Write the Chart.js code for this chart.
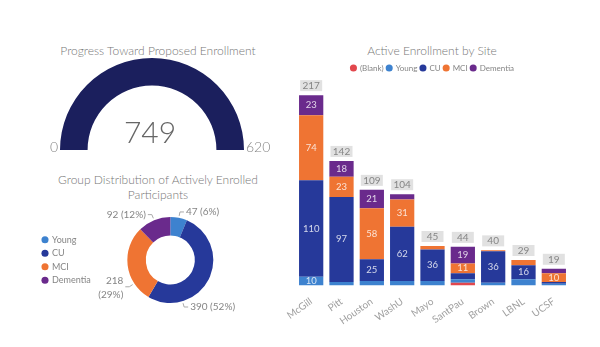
<!DOCTYPE html>
<html>
<head>
<meta charset="utf-8">
<script src="https://cdn.jsdelivr.net/npm/chart.js@4"></script>
<style>
    body { margin: 0; width: 600px; height: 347px; background: #fff; position: relative; overflow: hidden; font-family: Lato, sans-serif; }
    canvas { position: absolute; }
    .title { position: absolute; color: #777; font-size: 12px; font-weight: 300; text-align: center; line-height: 15px; }
</style>
</head>
<body>
<div class="title" style="left:38px; top:43px; width:240px;">Progress Toward Proposed Enrollment</div>
<div class="title" style="left:38px; top:172px; width:240px;">Group Distribution of Actively Enrolled<br>Participants</div>
<div class="title" style="left:312px; top:43px; width:240px;">Active Enrollment by Site</div>
<canvas id="gauge" width="240" height="105" style="left:40px; top:55px;"></canvas>
<canvas id="donut" width="300" height="115" style="left:30px; top:203px;"></canvas>
<canvas id="bars" width="320" height="289" style="left:280px; top:58px;"></canvas>
<script>
// gauge
const gaugeValue = 749;
const gaugeMin = 0;
const gaugeMax = 620;

// group distribution
const groups = ['Young', 'CU', 'MCI', 'Dementia'];
const groupCounts = [47, 390, 218, 92];

// enrollment by site
const sites = ['McGill', 'Pitt', 'Houston', 'WashU', 'Mayo', 'SantPau', 'Brown', 'LBNL', 'UCSF'];
const blankBySite = [0, 0, 0, 0, 0, 3, 0, 0, 0];
const youngBySite = [10, 4, 5, 5, 5, 4, 3, 7, 2];
const cuBySite = [110, 97, 25, 62, 36, 7, 36, 16, 2];
const mciBySite = [74, 23, 58, 31, 4, 11, 1, 6, 10];
const dementiaBySite = [23, 18, 21, 6, 0, 19, 0, 0, 5];

const colors = {
    blank: '#e2474d',
    young: '#3d82cf',
    cu: '#26399a',
    mci: '#ef7433',
    dementia: '#6a2a8c',
    gauge: '#1b1f5d'
};
const fontName = 'Lato, sans-serif';
const grey = '#858585';

// ---------- gauge ----------
const gaugeText = {
    id: 'gaugeText',
    afterDraw(chart) {
        const ctx = chart.ctx;
        const arc = chart.getDatasetMeta(0).data[0];
        ctx.save();
        ctx.fillStyle = '#666';
        ctx.textAlign = 'center';
        ctx.textBaseline = 'alphabetic';
        ctx.font = '300 30px ' + fontName;
        ctx.fillText(gaugeValue, arc.x - 2, arc.y - 7);
        ctx.font = '300 14px ' + fontName;
        ctx.fillStyle = grey;
        ctx.textAlign = 'right';
        ctx.fillText(gaugeMin, arc.x - arc.outerRadius - 2, arc.y + 2);
        ctx.textAlign = 'left';
        ctx.fillText(gaugeMax, arc.x + arc.outerRadius + 2, arc.y + 2);
        ctx.restore();
    }
};

new Chart(document.getElementById('gauge'), {
    type: 'doughnut',
    data: {
        labels: ['Enrolled', 'Remaining'],
        datasets: [{
            data: [Math.min(gaugeValue, gaugeMax), Math.max(gaugeMax - gaugeValue, 0)],
            backgroundColor: [colors.gauge, '#e6e6e6'],
            borderWidth: 0
        }]
    },
    options: {
        responsive: false,
        animation: false,
        rotation: -90,
        circumference: 180,
        cutout: '70%',
        layout: { padding: { left: 20, right: 36, top: 3, bottom: 10 } },
        plugins: { legend: { display: false }, tooltip: { enabled: false } }
    },
    plugins: [gaugeText]
});

// ---------- donut ----------
const donutLabels = {
    id: 'donutLabels',
    afterDatasetsDraw(chart) {
        const ctx = chart.ctx;
        const total = groupCounts.reduce((a, b) => a + b, 0);
        const meta = chart.getDatasetMeta(0);
        const boxes = chart.legend.legendHitBoxes;
        const legTop = boxes[0].top - 6;
        const legBottom = boxes[boxes.length - 1].top + boxes[boxes.length - 1].height + 6;
        ctx.save();
        ctx.font = '10px ' + fontName;
        ctx.fillStyle = grey;
        ctx.strokeStyle = '#aaa';
        ctx.lineWidth = 1;
        ctx.textBaseline = 'middle';
        meta.data.forEach(function (arc, i) {
            let ang = (arc.startAngle + arc.endAngle) / 2;
            // labels of the lower half slide toward the bottom of their slice
            if (Math.sin(ang) > 0) {
                const span = arc.endAngle - arc.startAngle;
                ang += (Math.cos(ang) >= 0 ? 1 : -1) * 0.25 * span;
            }
            const cos = Math.cos(ang), sin = Math.sin(ang);
            const r = arc.outerRadius;
            const x0 = arc.x + cos * (r + 2), y0 = arc.y + sin * (r + 2);
            const x1 = arc.x + cos * (r + 6), y1 = arc.y + sin * (r + 6);
            const dir = cos >= 0 ? 1 : -1;
            const x2 = x1 + dir * 4;
            ctx.beginPath();
            ctx.moveTo(x0, y0);
            ctx.lineTo(x1, y1);
            ctx.lineTo(x2, y1);
            ctx.stroke();
            const pct = Math.round(groupCounts[i] / total * 100);
            const txt = groupCounts[i] + ' (' + pct + '%)';
            const tx = x2 + dir * 2;
            ctx.textAlign = dir > 0 ? 'left' : 'right';
            const nearLegend = y1 > legTop && y1 < legBottom;
            if (dir < 0 && nearLegend && tx - ctx.measureText(txt).width < chart.legend.right + 6) {
                // not enough room beside the legend: two lines
                ctx.fillText(groupCounts[i], tx, y1 - 6);
                ctx.fillText('(' + pct + '%)', tx, y1 + 8);
            } else {
                ctx.fillText(txt, tx, y1);
            }
        });
        ctx.restore();
    }
};

new Chart(document.getElementById('donut'), {
    type: 'doughnut',
    data: {
        labels: groups,
        datasets: [{
            data: groupCounts,
            backgroundColor: [colors.young, colors.cu, colors.mci, colors.dementia],
            borderWidth: 0
        }]
    },
    options: {
        responsive: false,
        animation: false,
        cutout: '57%',
        layout: { padding: { top: 14, bottom: 15, left: 8, right: 90 } },
        plugins: {
            tooltip: { enabled: false },
            legend: {
                position: 'left',
                labels: {
                    usePointStyle: true,
                    pointStyle: 'circle',
                    boxWidth: 5,
                    boxHeight: 5,
                    padding: 4.5,
                    color: grey,
                    font: { family: fontName, size: 9 }
                }
            }
        }
    },
    plugins: [donutLabels]
});

// ---------- stacked bars ----------
const barLabels = {
    id: 'barLabels',
    afterDatasetsDraw(chart) {
        const ctx = chart.ctx;
        ctx.save();
        ctx.textAlign = 'center';
        ctx.textBaseline = 'middle';
        // values inside segments
        chart.data.datasets.forEach(function (ds, d) {
            const meta = chart.getDatasetMeta(d);
            meta.data.forEach(function (bar, i) {
                const h = Math.abs(bar.base - bar.y);
                if (ds.data[i] > 0 && h >= 8) {
                    ctx.font = '9.5px ' + fontName;
                    ctx.fillStyle = 'rgba(255,255,255,0.8)';
                    ctx.fillText(ds.data[i], bar.x, (bar.y + bar.base) / 2);
                }
            });
        });
        // totals in grey boxes
        const last = chart.getDatasetMeta(chart.data.datasets.length - 1);
        sites.forEach(function (s, i) {
            let total = 0;
            chart.data.datasets.forEach(function (ds) { total += ds.data[i]; });
            const bar = last.data[i];
            const y = chart.scales.y.getPixelForValue(total);
            ctx.fillStyle = '#e1e1e1';
            ctx.fillRect(bar.x - 11, y - 15, 22, 11);
            ctx.fillStyle = grey;
            ctx.font = '10px ' + fontName;
            ctx.fillText(total, bar.x, y - 9.5);
        });
        ctx.restore();
    }
};

new Chart(document.getElementById('bars'), {
    type: 'bar',
    data: {
        labels: sites,
        datasets: [
            { label: '(Blank)', data: blankBySite, backgroundColor: colors.blank },
            { label: 'Young', data: youngBySite, backgroundColor: colors.young },
            { label: 'CU', data: cuBySite, backgroundColor: colors.cu },
            { label: 'MCI', data: mciBySite, backgroundColor: colors.mci },
            { label: 'Dementia', data: dementiaBySite, backgroundColor: colors.dementia }
        ]
    },
    options: {
        responsive: false,
        animation: false,
        layout: { padding: { left: 16, right: 31, top: 3, bottom: 18 } },
        datasets: { bar: { categoryPercentage: 0.8, barPercentage: 1 } },
        scales: {
            x: {
                stacked: true,
                grid: { display: false },
                border: { display: false },
                ticks: {
                    color: '#a0a0a0',
                    font: { family: fontName, size: 10 },
                    minRotation: 35,
                    maxRotation: 35,
                    padding: 2
                }
            },
            y: {
                stacked: true,
                display: false,
                min: 0,
                max: 232
            }
        },
        plugins: {
            tooltip: { enabled: false },
            legend: {
                position: 'top',
                labels: {
                    usePointStyle: true,
                    pointStyle: 'circle',
                    boxWidth: 5,
                    boxHeight: 5,
                    padding: 3,
                    color: grey,
                    font: { family: fontName, size: 8 }
                }
            }
        }
    },
    plugins: [barLabels]
});
</script>
</body>
</html>
